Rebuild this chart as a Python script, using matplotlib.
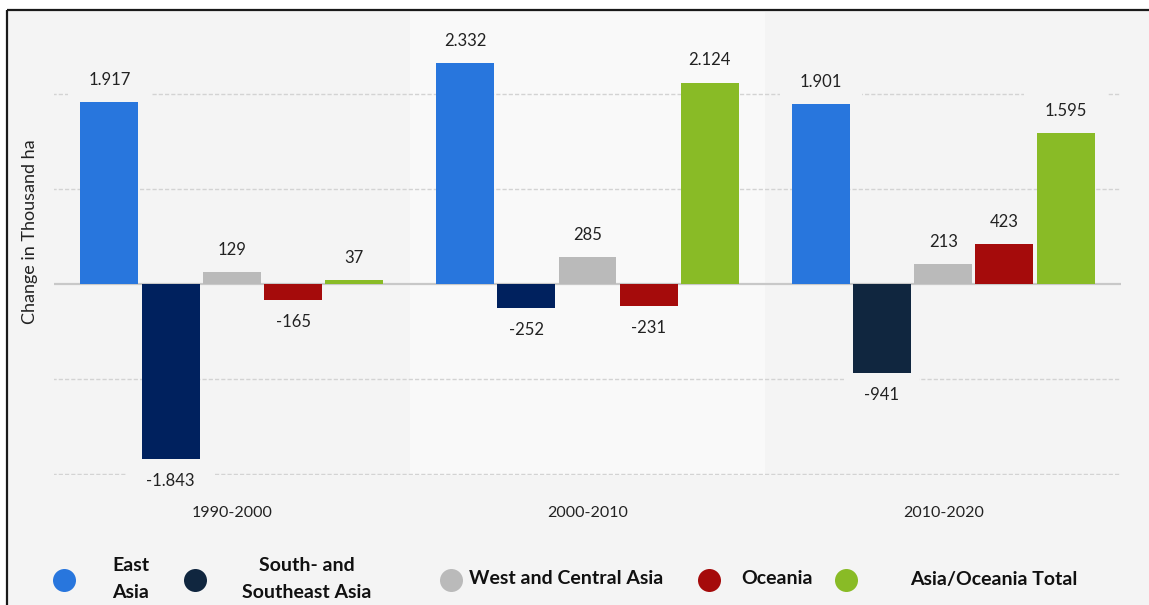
import numpy as np
import matplotlib.pyplot as plt
from matplotlib.patches import Rectangle

plt.rcParams['font.family'] = ['Lato', 'DejaVu Sans']

# data (thousand ha)
periods = ['1990-2000', '2000-2010', '2010-2020']
regions = ['East\nAsia', 'South- and\nSoutheast Asia', 'West and Central Asia',
           'Oceania', 'Asia/Oceania Total']
east_asia = [1917, 2332, 1901]
south_se_asia = [-1843, -252, -941]
west_central_asia = [129, 285, 213]
oceania = [-165, -231, 423]
asia_oceania_total = [37, 2124, 1595]
series = [east_asia, south_se_asia, west_central_asia, oceania, asia_oceania_total]

colors = ['#2876dd', '#00215e', '#bababa', '#a50b0b', '#89bb26']
sse_bar_colors = ['#00215e', '#00215e', '#10263f']
legend_colors = ['#2876dd', '#10263f', '#bababa', '#a50b0b', '#89bb26']
band_colors = ['#f4f4f4', '#f9f9f9', '#f4f4f4']

W, H = 1149, 605
fig = plt.figure(figsize=(W / 100, H / 100), dpi=100, facecolor='white')

# background / frame / legend layer in pixel coords
bg = fig.add_axes([0, 0, 1, 1], zorder=0)
bg.set_xlim(0, W)
bg.set_ylim(H, 0)
bg.axis('off')
bg.add_patch(Rectangle((7, 10), W, H, facecolor='#f4f4f4', edgecolor='none'))
bg.plot([7, W], [10, 10], color='#1a1a1a', lw=1.6, solid_capstyle='butt')
bg.plot([7, 7], [10, H], color='#1a1a1a', lw=1.6, solid_capstyle='butt')

# main plot
ax = fig.add_axes([54 / W, 1 - 475.4 / H, 1067 / W, 463.4 / H], zorder=1)
ax.set_facecolor('none')
ax.set_axisbelow(False)
ax.set_xlim(-0.5, 2.5)
ax.set_ylim(-2019, 2869)
for s in ax.spines.values():
    s.set_visible(False)
ax.set_yticks([])

ax.axvspan(0.5, 1.5, color=band_colors[1], lw=0, zorder=0)
for g in [-2000, -1000, 1000, 2000]:
    ax.axhline(g, xmin=-2 / 1067, color='#d3d3d3', lw=1, ls=(0, (3, 1.5)), zorder=1)
ax.axhline(0, xmin=-2 / 1067, color='#c8c8c8', lw=1.6, zorder=2.5)

x = np.arange(len(periods))
step = 0.172
width = 0.163
for i, vals in enumerate(series):
    xs = x + (i - 2) * step
    cols = sse_bar_colors if i == 1 else [colors[i]] * len(vals)
    ax.bar(xs, vals, width, color=cols, zorder=3)
    for j, v in enumerate(vals):
        lab = f'{v:,}'.replace(',', '.')
        off = 16 if v >= 0 else -16
        ax.annotate(lab, (xs[j], v), xytext=(0, off), textcoords='offset points',
                    ha='center', va='center', fontsize=12, color='#222222', zorder=2,
                    bbox=dict(boxstyle='square,pad=1.2', fc=band_colors[j], ec='none'))

ax.set_xticks(x)
ax.set_xticklabels(periods, fontsize=11.5, color='#222222')
ax.tick_params(axis='x', length=0, pad=22)

ax.text(-(54 - 30) / 1067, (475.4 - 232) / 463.4, 'Change in Thousand ha',
        transform=ax.transAxes, rotation=90, ha='center', va='center',
        fontsize=13, color='#222222')

# legend
dot_x = [64, 195, 451, 709, 846]
text_x = [112, 307, 469, 741, 910]
text_ha = ['left', 'center', 'left', 'left', 'left']
for k, name in enumerate(regions):
    bg.scatter(dot_x[k], 580, s=(23 * 0.72) ** 2, color=legend_colors[k], lw=0)
    bg.text(text_x[k], 579, name, ha=text_ha[k], va='center', fontsize=14,
            fontweight='bold', color='#111111', linespacing=1.65,
            multialignment='left' if k == 0 else 'center')

fig.savefig('out.png', dpi=100, facecolor=fig.get_facecolor())
